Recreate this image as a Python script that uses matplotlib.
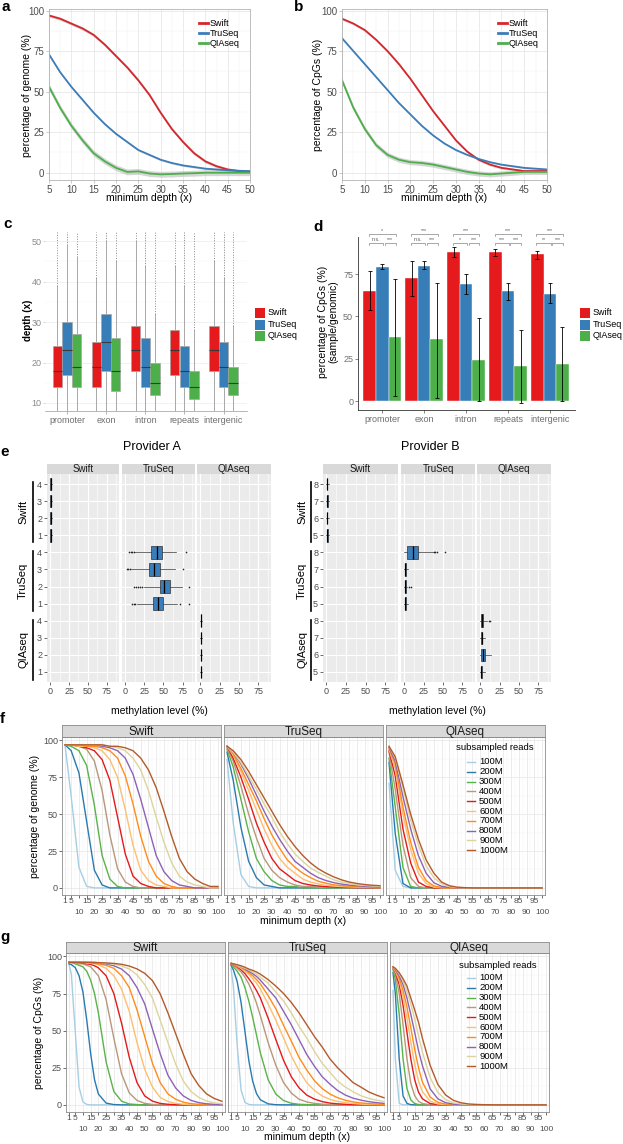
import matplotlib
matplotlib.use("Agg")
import matplotlib.pyplot as plt
from matplotlib.lines import Line2D
from matplotlib.patches import Rectangle
import numpy as np

W, H = 623, 1144
plt.rcParams["font.family"] = ["Liberation Sans", "DejaVu Sans"]

libs = ["Swift", "TruSeq", "QIAseq"]

# ── a / b: coverage vs minimum depth ───────────────────────────────────────
depth_ab = [5, 7.5, 10, 12.5, 15, 17.5, 20, 22.5, 25, 27.5, 30, 32.5, 35, 37.5, 40, 42.5, 45, 47.5, 50]
genome_swift = [97, 95, 92, 89, 85, 79, 72, 65, 57, 48, 37, 27, 19, 12, 7, 4, 2, 1, 0.5]
genome_truseq = [73, 62, 53, 45, 37, 30, 24, 19, 14, 11, 8, 6, 4.5, 3.5, 2.5, 2, 1.5, 1.2, 1]
genome_qiaseq = [53, 40, 29, 20, 12, 7, 3, 0.5, 0.8, -0.5, -1, -0.8, -0.5, -0.3, 0, 0, 0, 0, 0]
genome_se = [1.0, 0.6, 1.8]
cpg_swift = [95, 92, 88, 82, 75, 67, 58, 48, 38, 29, 20, 13, 8, 5, 3, 2, 1, 1, 1]
cpg_truseq = [83, 75, 67, 59, 51, 43, 36, 29, 23, 18, 14, 11, 8.5, 6.5, 5, 4, 3, 2.5, 2]
cpg_qiaseq = [57, 40, 27, 17, 11, 8, 6.5, 6, 5, 3.5, 2, 0.5, -0.5, -1, -0.5, 0, 0.5, 0.5, 0.5]
cpg_se = [0.8, 0.5, 1.6]

# ── c: depth per genomic region ───────────────────────────────────────────
regions = ["promoter", "exon", "intron", "repeats", "intergenic"]
depth_q1 = [[14, 17, 14], [14, 18, 13], [18, 14, 12], [17, 14, 11], [18, 14, 12]]
depth_med = [[18, 23, 19], [19, 25, 18], [23, 19, 15], [23, 18, 14], [23, 19, 15]]
depth_q3 = [[24, 30, 27], [25, 32, 26], [29, 26, 20], [28, 24, 18], [29, 25, 19]]
depth_wlo = [[4, 5, 4], [4, 6, 3], [7, 4, 3], [6, 4, 2], [7, 4, 3]]
depth_whi = [[39, 49, 46], [41, 50, 45], [50, 44, 32], [44, 39, 28], [45, 41, 29]]

# ── d: CpG ratio per region ───────────────────────────────────────────────
cpg_ratio = [[65, 79, 38], [72.5, 80, 36.5], [88, 69, 24.5], [88, 65, 20.5], [87, 63.5, 22]]
cpg_lo = [[54, 78, 3], [62, 78, 2], [85, 63, 0], [86, 60, -1], [84, 58, 0]]
cpg_hi = [[77, 81, 72], [83, 83, 70], [91, 75, 49], [90, 70, 42], [89, 70, 44]]
sig_top = ["*", "***", "***", "***", "***"]
sig_left = ["n.s.", "n.s.", "*", "***", "**"]
sig_right = ["***", "***", "***", "***", "***"]

# ── e: methylation level (q1, median, q3, whisker low, whisker high) ─────
provA_rows = ["4", "3", "2", "1"]
provB_rows = ["8", "7", "6", "5"]
provA_swift = [(0.2, 0.5, 1.0, 0, 2.5), (0.2, 0.5, 1.0, 0, 2.0), (0.2, 0.6, 1.2, 0, 2.5), (0.2, 0.5, 1.0, 0, 2.0)]
provA_truseq = [(34, 41.5, 48.5, 13, 66), (31.5, 37.5, 46, 8, 65), (45, 50.5, 58, 25, 74), (36, 42.5, 50, 15, 68)]
provA_qiaseq = [(0.3, 0.6, 1.2, 0, 2.5), (0.3, 0.7, 1.3, 0, 2.5), (0.3, 0.6, 1.2, 0, 2.5), (0.3, 0.6, 1.2, 0, 2.5)]
provA_swift_out = [[], [], [], []]
provA_truseq_out = [[5, 7, 9, 11, 80], [2, 4, 6, 76], [12, 14, 16, 19, 22, 84], [9, 11, 13, 72, 84]]
provA_qiaseq_out = [[], [], [], []]
provB_swift = [(0.2, 0.5, 1.2, 0, 3.0), (0.3, 0.8, 1.5, 0, 3.5), (0.2, 0.6, 1.3, 0, 3.0), (0.3, 0.8, 1.5, 0, 3.5)]
provB_truseq = [(3, 11, 17, 0, 37), (0.5, 1, 2, 0, 5), (0.5, 1, 2, 0, 4), (0.5, 1, 2.5, 0, 5)]
provB_qiaseq = [(0.5, 1.5, 3, 0, 8), (0.5, 1.5, 2.5, 0, 6), (1, 3, 6, 0, 14), (0.5, 1, 2.5, 0, 6)]
provB_swift_out = [[], [], [], []]
provB_truseq_out = [[38, 40, 42, 53], [], [6, 8], []]
provB_qiaseq_out = [[11, 13], [], [], []]

# ── f / g: subsampling curves ─────────────────────────────────────────────
reads = ["100M", "200M", "300M", "400M", "500M", "600M", "700M", "800M", "900M", "1000M"]
depth_f = [1, 5, 10, 15, 20, 25, 30, 35, 40, 45, 50, 55, 60, 65, 70, 75, 80, 85, 90, 95, 100]
f_swift = [
    [97, 62, 14, 1, 0, 0, 0, 0, 0, 0, 0, 0, 0, 0, 0, 0, 0, 0, 0, 0, 0],
    [97, 93, 78, 45, 12, 2, 0, 0, 0, 0, 0, 0, 0, 0, 0, 0, 0, 0, 0, 0, 0],
    [97, 96, 93, 83, 56, 22, 6, 1, 0, 0, 0, 0, 0, 0, 0, 0, 0, 0, 0, 0, 0],
    [97, 97, 96, 94, 86, 66, 36, 13, 4, 1, 0, 0, 0, 0, 0, 0, 0, 0, 0, 0, 0],
    [97, 97, 96, 95, 93, 87, 73, 48, 23, 8, 3, 1, 0, 0, 0, 0, 0, 0, 0, 0, 0],
    [97, 97, 96, 96, 95, 93, 87, 75, 53, 29, 12, 5, 2, 1, 0, 0, 0, 0, 0, 0, 0],
    [97, 97, 97, 96, 96, 95, 93, 88, 76, 57, 35, 18, 8, 3, 1, 0, 0, 0, 0, 0, 0],
    [97, 97, 97, 97, 97, 96, 95, 93, 88, 77, 60, 41, 22, 11, 5, 2, 1, 0, 0, 0, 0],
    [97, 97, 97, 97, 97, 97, 96, 95, 93, 88, 80, 66, 48, 31, 17, 8, 4, 2, 1, 0, 0],
    [97, 97, 97, 97, 97, 97, 96, 96, 95, 93, 88, 80, 68, 52, 35, 20, 11, 6, 3, 1, 1],
]
f_truseq = [
    [87, 44, 9, 1, 0, 0, 0, 0, 0, 0, 0, 0, 0, 0, 0, 0, 0, 0, 0, 0, 0],
    [92, 73, 41, 18, 7, 2, 1, 0, 0, 0, 0, 0, 0, 0, 0, 0, 0, 0, 0, 0, 0],
    [94, 82, 60, 38, 20, 11, 5, 2, 1, 1, 0, 0, 0, 0, 0, 0, 0, 0, 0, 0, 0],
    [95, 86, 69, 50, 34, 20, 12, 7, 4, 2, 1, 1, 0.5, 0.4, 0.3, 0.2, 0.1, 0, 0, 0, 0],
    [96, 88, 75, 60, 44, 31, 20, 13, 9, 5, 3, 2, 1.3, 0.9, 0.6, 0.4, 0.3, 0.2, 0.2, 0.1, 0.1],
    [96, 90, 79, 66, 53, 40, 29, 20, 14, 10, 6, 4, 2.7, 1.8, 1.3, 0.9, 0.7, 0.5, 0.4, 0.3, 0.2],
    [96, 91, 81, 70, 59, 47, 36, 27, 19, 14, 10, 7, 4.5, 3.2, 2.1, 1.6, 1.2, 0.9, 0.7, 0.5, 0.4],
    [96, 92, 84, 74, 63, 52, 42, 33, 25, 18, 14, 10, 7, 5, 3.6, 2.6, 1.9, 1.5, 1.1, 0.9, 0.7],
    [96, 92, 85, 76, 67, 57, 48, 38, 30, 23, 18, 13.5, 10.5, 8, 5.5, 4, 3, 2.1, 1.7, 1.3, 1],
    [96, 93, 87, 79, 70, 61, 52, 43, 35, 28, 22, 17, 13, 10, 7.5, 5.5, 4, 3, 2.3, 1.8, 1.5],
]
f_qiaseq = [
    [71, 12, 1, 0, 0, 0, 0, 0, 0, 0, 0, 0, 0, 0, 0, 0, 0, 0, 0, 0, 0],
    [85, 37, 3, 0, 0, 0, 0, 0, 0, 0, 0, 0, 0, 0, 0, 0, 0, 0, 0, 0, 0],
    [88, 55, 14, 1, 0, 0, 0, 0, 0, 0, 0, 0, 0, 0, 0, 0, 0, 0, 0, 0, 0],
    [92, 67, 29, 7, 1, 0, 0, 0, 0, 0, 0, 0, 0, 0, 0, 0, 0, 0, 0, 0, 0],
    [93, 76, 40, 17, 4, 1, 0, 0, 0, 0, 0, 0, 0, 0, 0, 0, 0, 0, 0, 0, 0],
    [94, 81, 50, 26, 10, 3, 0.5, 0.1, 0, 0, 0, 0, 0, 0, 0, 0, 0, 0, 0, 0, 0],
    [95, 84, 55, 31, 14, 5, 1.3, 0.3, 0.1, 0, 0, 0, 0, 0, 0, 0, 0, 0, 0, 0, 0],
    [95, 86, 62, 40, 22, 10, 3.5, 1.1, 0.3, 0.1, 0, 0, 0, 0, 0, 0, 0, 0, 0, 0, 0],
    [96, 88, 68, 46, 29, 15, 7, 2.7, 0.9, 0.3, 0.1, 0, 0, 0, 0, 0, 0, 0, 0, 0, 0],
    [96, 89, 70, 50, 33, 19, 10, 4, 1.5, 0.5, 0.2, 0, 0, 0, 0, 0, 0, 0, 0, 0, 0],
]
depth_g = [1, 2.5, 5, 7.5, 10, 12.5, 15, 17.5, 20, 25, 30, 35, 40, 45, 50, 55, 60, 65, 70, 75, 80, 85, 90, 95, 100]
g_swift = [
    [95, 88, 50, 12, 2, 0.3, 0, 0, 0, 0, 0, 0, 0, 0, 0, 0, 0, 0, 0, 0, 0, 0, 0, 0, 0],
    [95, 94.5, 92.5, 87, 76, 57, 34.5, 17, 7.3, 1.2, 0.2, 0, 0, 0, 0, 0, 0, 0, 0, 0, 0, 0, 0, 0, 0],
    [96, 96, 95, 94, 93, 90, 84, 75, 62, 29, 9, 2.5, 0.6, 0.2, 0, 0, 0, 0, 0, 0, 0, 0, 0, 0, 0],
    [96, 96, 96, 95, 95, 94, 93, 90, 87, 71, 45, 21, 8, 3, 1, 0.3, 0.1, 0, 0, 0, 0, 0, 0, 0, 0],
    [96, 96, 96, 96, 95.5, 95, 94.6, 93.7, 92.3, 87, 75, 55, 32, 15, 6, 2.5, 1, 0.4, 0.1, 0, 0, 0, 0, 0, 0],
    [96, 96, 96, 96, 96, 95.5, 95.3, 95, 94.3, 92, 87, 78, 63, 42, 24, 12, 5, 2.3, 1, 0.4, 0.2, 0.1, 0, 0, 0],
    [96, 96, 96, 96, 96, 96, 95.6, 95.4, 95, 94, 92, 87, 79, 64, 46, 28, 15, 7.4, 3.8, 1.8, 0.8, 0.4, 0.2, 0.1, 0],
    [96, 96, 96, 96, 96, 96, 96, 95.7, 95.4, 95, 93.7, 91.5, 87, 79, 68, 51, 34.5, 20, 11.4, 6, 3, 1.5, 0.75, 0.35, 0.2],
    [96, 96, 96, 96, 96, 96, 96, 96, 95.7, 95.4, 94.8, 93.6, 91.5, 87.6, 81, 72, 57, 42, 27.5, 16, 9, 5, 2.6, 1.4, 0.7],
    [96, 96, 96, 96, 96, 96, 96, 96, 95.8, 95.6, 95.3, 94.7, 93.5, 91.6, 88.6, 83.7, 74.8, 62, 48, 34, 21, 13, 7.4, 4.3, 2.4],
]
g_truseq = [
    [92, 80, 40, 10, 1.7, 0.3, 0, 0, 0, 0, 0, 0, 0, 0, 0, 0, 0, 0, 0, 0, 0, 0, 0, 0, 0],
    [94, 91, 83, 69, 49.5, 30, 16, 7.6, 3.4, 0.7, 0.1, 0, 0, 0, 0, 0, 0, 0, 0, 0, 0, 0, 0, 0, 0],
    [95, 93, 90, 86, 79, 70, 59, 47, 35, 17, 7.3, 2.9, 1.1, 0.4, 0.2, 0.1, 0, 0, 0, 0, 0, 0, 0, 0, 0],
    [95, 94, 92, 89.5, 86, 81.5, 75.5, 68.5, 60, 42, 26.6, 15, 8, 3.8, 2, 1, 0.5, 0.2, 0.1, 0, 0, 0, 0, 0, 0],
    [95, 94.4, 93, 91, 88.4, 85, 81.4, 77, 72, 58.5, 44, 30, 19, 11.5, 6.6, 3.9, 2.2, 1.2, 0.7, 0.4, 0.2, 0.1, 0.1, 0, 0],
    [95, 94.6, 93.4, 92, 90, 88, 85, 82, 78, 68, 57, 45, 33, 23, 15, 9.7, 6, 3.7, 2.3, 1.5, 0.9, 0.5, 0.3, 0.2, 0.1],
    [95, 94.7, 93.7, 92.5, 91, 89, 87, 84.4, 81.5, 73.6, 64.7, 53.6, 43, 32, 23.5, 16.3, 11, 7.3, 4.8, 3.1, 2, 1.3, 0.85, 0.55, 0.35],
    [95, 95, 94, 93, 91.5, 90, 88.4, 86.5, 84, 78, 72, 63, 54, 44, 34, 26, 19, 14, 9.7, 6.6, 4.5, 3.2, 2.2, 1.5, 1],
    [95.5, 95, 94, 93, 92, 91, 89.5, 88, 86, 82, 76, 70, 62, 53, 45, 36, 28, 22, 16, 12, 8.8, 6.2, 4.4, 3.2, 2.3],
    [95.5, 95, 94.4, 93.7, 92.7, 91.5, 90.6, 89.5, 88, 84.4, 80, 75, 69, 62, 54, 46, 39, 31, 25, 20, 15, 12, 8.8, 6.6, 4.8],
]
g_qiaseq = [
    [77, 31, 1, 0, 0, 0, 0, 0, 0, 0, 0, 0, 0, 0, 0, 0, 0, 0, 0, 0, 0, 0, 0, 0, 0],
    [89, 75, 31, 6, 1, 0.15, 0, 0, 0, 0, 0, 0, 0, 0, 0, 0, 0, 0, 0, 0, 0, 0, 0, 0, 0],
    [91, 84.5, 61, 31, 11, 3.4, 0.9, 0.25, 0.07, 0, 0, 0, 0, 0, 0, 0, 0, 0, 0, 0, 0, 0, 0, 0, 0],
    [92, 88, 75, 54, 31, 14.5, 6.2, 2.4, 0.9, 0.1, 0, 0, 0, 0, 0, 0, 0, 0, 0, 0, 0, 0, 0, 0, 0],
    [92.4, 89.4, 81, 67, 49, 31, 17, 8.6, 4.1, 0.9, 0.2, 0, 0, 0, 0, 0, 0, 0, 0, 0, 0, 0, 0, 0, 0],
    [92.6, 90, 84, 73, 58.7, 42.5, 27.5, 16, 9, 2.5, 0.6, 0.2, 0, 0, 0, 0, 0, 0, 0, 0, 0, 0, 0, 0, 0],
    [92.8, 91, 85.5, 77, 66, 52, 37.5, 25, 15.4, 5.3, 1.7, 0.5, 0.15, 0, 0, 0, 0, 0, 0, 0, 0, 0, 0, 0, 0],
    [93, 91, 87, 81, 72, 61, 49, 36.6, 26.5, 10.8, 4.1, 1.5, 0.5, 0.2, 0.07, 0, 0, 0, 0, 0, 0, 0, 0, 0, 0],
    [93, 91.7, 88.3, 83.7, 76.5, 68, 58, 46.5, 35.7, 18.4, 8.4, 3.5, 1.4, 0.6, 0.23, 0.09, 0, 0, 0, 0, 0, 0, 0, 0, 0],
    [93, 92, 89, 85, 80, 72, 64, 55.6, 45, 26.7, 13.8, 6.7, 3.1, 1.4, 0.6, 0.3, 0.12, 0.05, 0, 0, 0, 0, 0, 0, 0],
]
ticks_row1 = [1, 5, 15, 25, 35, 45, 55, 65, 75, 85, 95]
ticks_row2 = [10, 20, 30, 40, 50, 60, 70, 80, 90, 100]

LIB_COLORS = ["#E41A1C", "#377EB8", "#4DAF4A"]
LINE_COLORS = ["#D7262B", "#3C7DB9", "#4DAF4A"]
READ_COLORS = ["#A6CEE3", "#2A7AB0", "#5AB34A", "#B8977A", "#E31A1C",
               "#FDBF6F", "#FF8C1A", "#8C62B8", "#DDD49C", "#B35A2A"]
TICK_GRAY = "#4D4D4D"

fig = plt.figure(figsize=(W / 100, H / 100), dpi=100)


def px_axes(x0, y0, x1, y1):
    return fig.add_axes([x0 / W, 1 - y1 / H, (x1 - x0) / W, (y1 - y0) / H])


def fig_text(x, y, s, **kw):
    fig.text(x / W, 1 - y / H, s, **kw)


def fig_line(xs, ys, **kw):
    fig.add_artist(Line2D([x / W for x in xs], [1 - y / H for y in ys],
                          transform=fig.transFigure, **kw))


def fig_rect(x0, y0, x1, y1, **kw):
    fig.add_artist(Rectangle((x0 / W, 1 - y1 / H), (x1 - x0) / W, (y1 - y0) / H,
                             transform=fig.transFigure, **kw))


def panel_letter(x, y, s):
    fig_text(x, y, s, fontsize=11, fontweight="bold", ha="left", va="center")


# ── a / b ──────────────────────────────────────────────────────────────────
def coverage_panel(x0, x1, curves, se, ylabel, ylabel_x, leg_x):
    ax = px_axes(x0, 9, x1, 180)
    for vals, band, color in zip(curves, se, LINE_COLORS):
        v = np.array(vals)
        ax.fill_between(depth_ab, v - band, v + band, color="#B5B5B5", alpha=0.55, lw=0)
        ax.plot(depth_ab, v, color=color, lw=1.3)
    ax.set_xlim(5, 50)
    ax.set_ylim(-4.5, 101)
    ax.set_xticks(range(5, 51, 5))
    ax.set_yticks([0, 25, 50, 75, 100])
    ax.set_xticks(np.arange(7.5, 50, 5), minor=True)
    ax.set_yticks([12.5, 37.5, 62.5, 87.5], minor=True)
    ax.grid(True, which="major", color="#E3E3E3", lw=0.5)
    ax.grid(True, which="minor", color="#F0F0F0", lw=0.3)
    ax.set_axisbelow(True)
    for s in ax.spines.values():
        s.set_color("#B3B3B3")
        s.set_linewidth(0.6)
    ax.tick_params(which="major", length=2, width=0.5, color="#B3B3B3",
                   labelsize=7, labelcolor=TICK_GRAY, pad=1.5)
    ax.tick_params(which="minor", length=0)
    fig_text((x0 + x1) / 2, 198, "minimum depth (x)", fontsize=7.5, ha="center", va="center")
    fig_text(ylabel_x, 95, ylabel, rotation=90, ha="center", va="center", fontsize=7.5)
    for i, (lib, color) in enumerate(zip(libs, LINE_COLORS)):
        y = 23 + 10 * i
        fig_line([leg_x, leg_x + 9], [y, y], color=color, lw=2)
        fig_text(leg_x + 11, y, lib, fontsize=6.5, va="center")


coverage_panel(49, 250, [genome_swift, genome_truseq, genome_qiaseq], genome_se,
               "percentage of genome (%)", 27, 199)
coverage_panel(342, 547, [cpg_swift, cpg_truseq, cpg_qiaseq], cpg_se,
               "percentage of CpGs (%)", 318, 498)
panel_letter(1, 7, "a")
panel_letter(294, 7, "b")


def square_legend(x, y0):
    for i, (lib, color) in enumerate(zip(libs, LIB_COLORS)):
        y = y0 + 11.5 * i
        fig_rect(x, y - 5, x + 10, y + 5, facecolor=color, edgecolor="none")
        fig_text(x + 13, y, lib, fontsize=6.5, va="center")


# ── c ──────────────────────────────────────────────────────────────────────
ax = px_axes(45, 232, 247, 411)
ax.set_xlim(0.44, 5.6)
ax.set_ylim(8, 52.3)
offsets = [-0.245, 0, 0.245]
for j in range(3):
    pos = [i + 1 + offsets[j] for i in range(5)]
    stats = [dict(q1=depth_q1[i][j], med=depth_med[i][j], q3=depth_q3[i][j],
                  whislo=depth_wlo[i][j], whishi=depth_whi[i][j], fliers=[]) for i in range(5)]
    ax.bxp(stats, positions=pos, widths=0.24, patch_artist=True, showcaps=False, showfliers=False,
           boxprops=dict(facecolor=LIB_COLORS[j], edgecolor="#A0A0A0", linewidth=0.4),
           medianprops=dict(color="#3A3A3A", linewidth=0.8),
           whiskerprops=dict(color="#A8A8A8", linewidth=0.7))
    tops = [depth_whi[i][j] for i in range(5)]
    ax.vlines(pos, tops, 52.3, colors="#8C8C8C", linestyles=(0, (1, 1.6)), lw=0.7)
ax.set_xticks(range(1, 6))
ax.set_xticklabels(regions)
ax.set_yticks([10, 20, 30, 40, 50])
ax.set_yticks([15, 25, 35, 45], minor=True)
ax.grid(True, axis="y", which="major", color="#EBEBEB", lw=0.5)
ax.grid(True, axis="y", which="minor", color="#F4F4F4", lw=0.3)
ax.grid(True, axis="x", which="major", color="#F0F0F0", lw=0.5)
ax.set_axisbelow(True)
for s in ["top", "right", "left"]:
    ax.spines[s].set_visible(False)
ax.spines["bottom"].set_color("#9A9A9A")
ax.spines["bottom"].set_linewidth(0.5)
ax.tick_params(axis="x", length=2, width=0.5, color="#9A9A9A", labelsize=6.5,
               labelcolor="#6E6E6E", pad=1.5)
ax.tick_params(axis="y", which="major", length=1.5, width=0.5, color="#C8C8C8",
               labelsize=6.5, labelcolor="#8A8A8A", pad=1)
ax.tick_params(axis="y", which="minor", length=0)
fig_text(28, 320, "depth (x)", rotation=90, ha="center", va="center", fontsize=7, fontweight="bold")
square_legend(255, 313)
panel_letter(3, 224, "c")

# ── d ──────────────────────────────────────────────────────────────────────
ax = px_axes(358, 237, 575, 410)
ax.set_xlim(0.42, 5.6)
ax.set_ylim(-5.3, 97)
for j in range(3):
    pos = [i + 1 + (j - 1) * 0.3 for i in range(5)]
    vals = [cpg_ratio[i][j] for i in range(5)]
    lo = [cpg_ratio[i][j] - cpg_lo[i][j] for i in range(5)]
    hi = [cpg_hi[i][j] - cpg_ratio[i][j] for i in range(5)]
    ax.bar(pos, vals, width=0.3, color=LIB_COLORS[j], edgecolor="white", linewidth=0.3)
    ax.errorbar(pos, vals, yerr=[lo, hi], fmt="none", ecolor="black",
                elinewidth=0.6, capsize=1.3, capthick=0.6)
for i in range(5):
    c = i + 1
    y1, y2 = 98.8, 93.5
    ax.plot([c - 0.32, c - 0.32, c + 0.32, c + 0.32], [y1 - 1, y1, y1, y1 - 1],
            color="#666666", lw=0.4, clip_on=False)
    ax.text(c, y1 + 0.4, sig_top[i], fontsize=3.8, ha="center", va="bottom", color="#555555")
    ax.plot([c - 0.32, c - 0.32, c + 0.02, c + 0.02], [y2 - 1, y2, y2, y2 - 1],
            color="#666666", lw=0.4, clip_on=False)
    ax.plot([c + 0.06, c + 0.06, c + 0.32, c + 0.32], [y2 - 1, y2, y2, y2 - 1],
            color="#666666", lw=0.4, clip_on=False)
    ax.text(c - 0.15, y2 + 0.4, sig_left[i], fontsize=3.8, ha="center", va="bottom", color="#555555")
    ax.text(c + 0.19, y2 + 0.4, sig_right[i], fontsize=3.8, ha="center", va="bottom", color="#555555")
ax.set_xticks(range(1, 6))
ax.set_xticklabels(regions)
ax.set_yticks([0, 25, 50, 75])
for s in ["top", "right"]:
    ax.spines[s].set_visible(False)
for s in ["left", "bottom"]:
    ax.spines[s].set_color("#333333")
    ax.spines[s].set_linewidth(0.6)
ax.tick_params(length=2, width=0.5, color="#555555", labelsize=6.5, labelcolor="#6E6E6E", pad=1.5)
fig_text(328, 322, "percentage of CpGs (%)\n(sample/genomic)", rotation=90, ha="center",
         va="center", fontsize=7.5, linespacing=1.1)
square_legend(580, 313)
panel_letter(313, 227, "d")


# ── e ──────────────────────────────────────────────────────────────────────
def meth_provider(cols, title, title_x, row_labels, stats_by_lib, out_by_lib, line_x, text_x):
    fig_text(title_x, 447, title, fontsize=9, ha="center", va="center")
    for ci, (lib, (x0, x1)) in enumerate(zip(libs, cols)):
        ax = px_axes(x0, 474, x1, 682)
        ax.set_facecolor("#EBEBEB")
        ax.set_xlim(-4.35, 91.35)
        ax.set_ylim(0.4, 12.6)
        # rows listed top to bottom: group ci occupies positions 12-4ci ... 9-4ci
        pos = [12 - (ci * 4 + r) for r in range(4)]
        stats = [dict(q1=s[0], med=s[1], q3=s[2], whislo=s[3], whishi=s[4], fliers=f)
                 for s, f in zip(stats_by_lib[ci], out_by_lib[ci])]
        ax.bxp(stats, positions=pos, widths=0.72, vert=False, patch_artist=True, showcaps=False,
               boxprops=dict(facecolor="#3A7DBA", edgecolor="#333333", linewidth=0.5),
               medianprops=dict(color="black", linewidth=0.9),
               whiskerprops=dict(color="#333333", linewidth=0.5),
               flierprops=dict(marker="o", markersize=1.2, markerfacecolor="#222222",
                               markeredgecolor="none"))
        ax.set_xticks([0, 25, 50, 75])
        ax.set_xticks([12.5, 37.5, 62.5, 87.5], minor=True)
        ax.set_yticks(range(1, 13))
        ax.grid(True, which="major", color="white", lw=0.8)
        ax.grid(True, axis="x", which="minor", color="white", lw=0.4)
        ax.set_axisbelow(True)
        for s in ax.spines.values():
            s.set_visible(False)
        ax.tick_params(which="major", length=2, width=0.5, color="#333333",
                       labelsize=6.5, labelcolor=TICK_GRAY, pad=1.5)
        ax.tick_params(which="minor", length=0)
        if ci == 0:
            ax.set_yticklabels((row_labels * 3)[::-1])
        else:
            ax.set_yticklabels([])
            ax.tick_params(axis="y", length=0)
        sax = px_axes(x0, 464, x1, 474)
        sax.set_facecolor("#D9D9D9")
        sax.set_xticks([])
        sax.set_yticks([])
        for s in sax.spines.values():
            s.set_visible(False)
        sax.text(0.5, 0.45, lib, transform=sax.transAxes, ha="center", va="center",
                 fontsize=7, color="#1A1A1A")
    # row group labels
    for gi, lib in enumerate(libs):
        ytop = 474 + (0.6 + gi * 4 - 0.35) * 17.2 + 4
        ybot = ytop + 3.7 * 17.2 - 4
        fig_line([line_x, line_x], [ytop, ybot], color="black", lw=1.2)
        fig_text(text_x, (ytop + ybot) / 2, lib, rotation=90, ha="center", va="center", fontsize=8)
    fig_text((cols[0][0] + cols[2][1]) / 2, 711, "methylation level (%)", fontsize=7.5,
             ha="center", va="center")


meth_provider([(47, 119), (122, 195), (197, 271)], "Provider A", 152, provA_rows,
              [provA_swift, provA_truseq, provA_qiaseq],
              [provA_swift_out, provA_truseq_out, provA_qiaseq_out], 33, 23)
meth_provider([(323, 398), (401, 475), (477, 551)], "Provider B", 430, provB_rows,
              [provB_swift, provB_truseq, provB_qiaseq],
              [provB_swift_out, provB_truseq_out, provB_qiaseq_out], 311, 302)
panel_letter(0, 452, "e")


# ── f / g ─────────────────────────────────────────────────────────────────
def depth_facets(cols, strip_y0, strip_y1, panel_y1, depth, panels, ylabel, ylabel_x,
                 leg_title_x, leg_title_y, leg_y0, xlabel_y):
    all_ticks = sorted(ticks_row1 + ticks_row2)
    mids = [(a + b) / 2 for a, b in zip(all_ticks[:-1], all_ticks[1:])]
    for ci, (lib, rows, (x0, x1)) in enumerate(zip(libs, panels, cols)):
        ax = px_axes(x0, strip_y1, x1, panel_y1)
        for t in all_ticks:
            ax.axvline(t, color="#E5E5E5", lw=0.5, zorder=0)
        for t in mids:
            ax.axvline(t, color="#F2F2F2", lw=0.3, zorder=0)
        for vals, color in zip(rows, READ_COLORS):
            ax.plot(depth, vals, color=color, lw=1.0)
        ax.set_xlim(-0.95, 101.95)
        ax.set_ylim(-4.8, 102.3)
        # two rows of tick labels: odd fives on top, tens below
        ax.set_xticks(ticks_row1)
        ax.set_xticklabels([str(t) for t in ticks_row1])
        ax.set_xticks(ticks_row2, minor=True)
        ax.set_xticklabels([str(t) for t in ticks_row2], minor=True)
        ax.set_yticks([0, 25, 50, 75, 100])
        ax.set_yticks([12.5, 37.5, 62.5, 87.5], minor=True)
        ax.grid(True, axis="y", which="major", color="#E5E5E5", lw=0.5)
        ax.grid(True, axis="y", which="minor", color="#F2F2F2", lw=0.3)
        ax.set_axisbelow(True)
        for s in ax.spines.values():
            s.set_color("#8C8C8C")
            s.set_linewidth(0.6)
        ax.tick_params(axis="x", which="major", length=2, width=0.5, color="#333333",
                       labelsize=6, labelcolor=TICK_GRAY, pad=0.5)
        ax.tick_params(axis="x", which="minor", length=2, width=0.5, color="#333333",
                       labelsize=6, labelcolor=TICK_GRAY, pad=8)
        ax.tick_params(axis="y", which="major", length=2, width=0.5, color="#333333",
                       labelsize=6.5, labelcolor=TICK_GRAY, pad=1)
        ax.tick_params(axis="y", which="minor", length=0)
        if ci > 0:
            ax.set_yticklabels([])
            ax.tick_params(axis="y", length=0)
        sax = px_axes(x0, strip_y0, x1, strip_y1)
        sax.set_facecolor("#D9D9D9")
        sax.set_xticks([])
        sax.set_yticks([])
        for s in sax.spines.values():
            s.set_color("#8C8C8C")
            s.set_linewidth(0.6)
        sax.text(0.5, 0.42, lib, transform=sax.transAxes, ha="center", va="center",
                 fontsize=8.5, color="#1A1A1A")
    fig_text(ylabel_x, (strip_y1 + panel_y1) / 2, ylabel, rotation=90, ha="center",
             va="center", fontsize=7.5)
    fig_text((cols[0][0] + cols[2][1]) / 2, xlabel_y, "minimum depth (x)", fontsize=7.5,
             ha="center", va="center")
    fig_text(leg_title_x, leg_title_y, "subsampled reads", fontsize=6.8, va="center")
    for i, (r, color) in enumerate(zip(reads, READ_COLORS)):
        y = leg_y0 + 9.8 * i
        fig_line([467, 475], [y, y], color=color, lw=1.0)
        fig_text(479, y, r, fontsize=6.8, va="center")


depth_facets([(62, 221), (224, 383), (386, 545)], 725, 737, 895, depth_f,
             [f_swift, f_truseq, f_qiaseq], "percentage of genome (%)", 35, 456, 748, 762, 921)
panel_letter(0, 719, "f")
depth_facets([(66, 225), (228, 387), (390, 549)], 942, 953, 1112, depth_g,
             [g_swift, g_truseq, g_qiaseq], "percentage of CpGs (%)", 39, 459, 965, 978, 1137)
panel_letter(0, 937, "g")

fig.savefig("out.png", dpi=100)
